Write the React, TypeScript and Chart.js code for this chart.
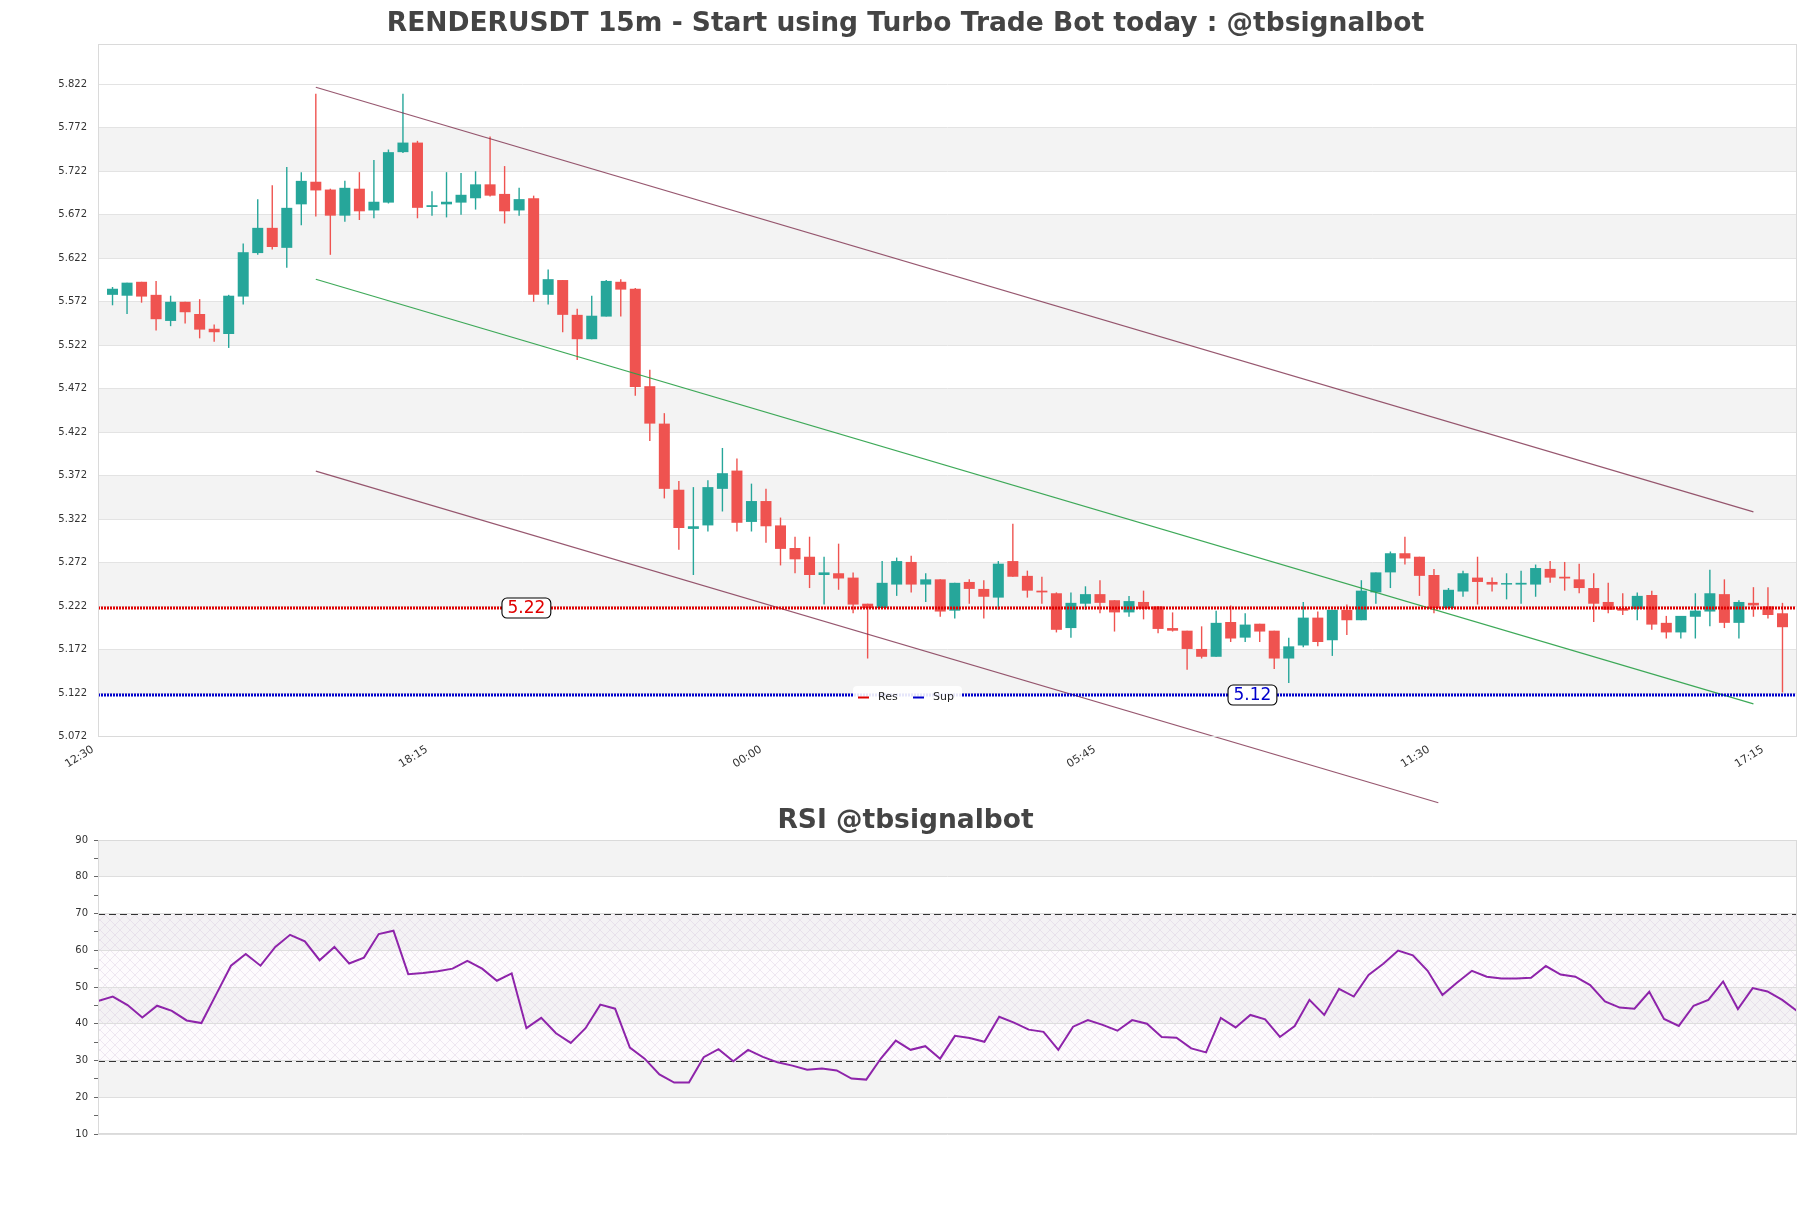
import React, { useEffect, useRef } from 'react';
import { Chart, registerables } from 'chart.js';

Chart.register(...registerables);

const FONT = '"DejaVu Sans", "Liberation Sans", sans-serif';

const titleText = 'RENDERUSDT 15m - Start using Turbo Trade Bot today : @tbsignalbot';
const rsiTitleText = 'RSI @tbsignalbot';

const opens = [
  5.580, 5.579, 5.595, 5.580, 5.550, 5.572, 5.558, 5.541, 5.535, 5.578,
  5.628, 5.657, 5.634, 5.684, 5.710, 5.701, 5.671, 5.702, 5.677, 5.686,
  5.744, 5.755, 5.681, 5.684, 5.686, 5.691, 5.707, 5.696, 5.677, 5.691,
  5.580, 5.597, 5.557, 5.529, 5.555, 5.595, 5.587, 5.475, 5.432, 5.356,
  5.311, 5.315, 5.357, 5.378, 5.319, 5.343, 5.315, 5.289, 5.279, 5.258,
  5.260, 5.255, 5.225, 5.220, 5.247, 5.273, 5.247, 5.253, 5.217, 5.250,
  5.242, 5.232, 5.274, 5.257, 5.240, 5.237, 5.197, 5.225, 5.236, 5.229,
  5.215, 5.227, 5.222, 5.197, 5.194, 5.173, 5.164, 5.204, 5.186, 5.202,
  5.194, 5.162, 5.177, 5.209, 5.183, 5.218, 5.206, 5.238, 5.261, 5.283,
  5.279, 5.258, 5.220, 5.239, 5.255, 5.250, 5.247, 5.247, 5.247, 5.265,
  5.256, 5.253, 5.243, 5.227, 5.220, 5.219, 5.235, 5.203, 5.192, 5.210,
  5.216, 5.236, 5.203, 5.226, 5.222, 5.214,
];
const highs = [
  5.589, 5.594, 5.595, 5.596, 5.579, 5.572, 5.575, 5.546, 5.580, 5.639,
  5.690, 5.706, 5.727, 5.721, 5.811, 5.702, 5.711, 5.721, 5.735, 5.747,
  5.811, 5.757, 5.699, 5.721, 5.720, 5.722, 5.762, 5.728, 5.703, 5.694,
  5.609, 5.597, 5.564, 5.579, 5.597, 5.598, 5.588, 5.494, 5.444, 5.366,
  5.359, 5.367, 5.404, 5.392, 5.363, 5.357, 5.324, 5.302, 5.302, 5.279,
  5.294, 5.261, 5.225, 5.274, 5.278, 5.280, 5.260, 5.253, 5.249, 5.253,
  5.252, 5.274, 5.317, 5.263, 5.256, 5.238, 5.238, 5.245, 5.252, 5.229,
  5.234, 5.240, 5.222, 5.215, 5.194, 5.199, 5.217, 5.223, 5.214, 5.202,
  5.194, 5.186, 5.227, 5.216, 5.218, 5.224, 5.252, 5.261, 5.285, 5.302,
  5.279, 5.265, 5.243, 5.263, 5.279, 5.255, 5.260, 5.263, 5.270, 5.274,
  5.273, 5.271, 5.260, 5.249, 5.237, 5.238, 5.240, 5.211, 5.211, 5.237,
  5.264, 5.253, 5.229, 5.244, 5.244, 5.226,
];
const lows = [
  5.568, 5.558, 5.571, 5.539, 5.544, 5.547, 5.530, 5.526, 5.519, 5.569,
  5.626, 5.632, 5.611, 5.660, 5.670, 5.626, 5.664, 5.666, 5.668, 5.685,
  5.743, 5.668, 5.671, 5.669, 5.672, 5.678, 5.693, 5.662, 5.671, 5.572,
  5.569, 5.537, 5.505, 5.529, 5.555, 5.555, 5.464, 5.412, 5.346, 5.287,
  5.258, 5.308, 5.331, 5.308, 5.308, 5.295, 5.269, 5.260, 5.243, 5.224,
  5.241, 5.214, 5.162, 5.220, 5.234, 5.238, 5.227, 5.210, 5.208, 5.225,
  5.208, 5.218, 5.256, 5.232, 5.225, 5.192, 5.186, 5.218, 5.214, 5.193,
  5.210, 5.207, 5.191, 5.193, 5.149, 5.162, 5.164, 5.181, 5.181, 5.181,
  5.150, 5.134, 5.175, 5.176, 5.165, 5.189, 5.206, 5.225, 5.243, 5.270,
  5.234, 5.214, 5.219, 5.233, 5.224, 5.239, 5.230, 5.225, 5.233, 5.249,
  5.240, 5.237, 5.204, 5.214, 5.212, 5.206, 5.195, 5.185, 5.185, 5.185,
  5.199, 5.197, 5.185, 5.210, 5.208, 5.123,
];
const closes = [
  5.587, 5.594, 5.578, 5.552, 5.572, 5.560, 5.540, 5.537, 5.579, 5.629,
  5.657, 5.635, 5.680, 5.711, 5.700, 5.671, 5.703, 5.676, 5.687, 5.744,
  5.755, 5.680, 5.683, 5.687, 5.695, 5.707, 5.694, 5.676, 5.690, 5.580,
  5.598, 5.557, 5.529, 5.556, 5.596, 5.586, 5.474, 5.432, 5.357, 5.312,
  5.314, 5.359, 5.375, 5.318, 5.343, 5.314, 5.288, 5.276, 5.258, 5.261,
  5.254, 5.224, 5.220, 5.249, 5.274, 5.247, 5.253, 5.216, 5.249, 5.242,
  5.233, 5.271, 5.256, 5.240, 5.238, 5.195, 5.226, 5.236, 5.226, 5.215,
  5.228, 5.219, 5.196, 5.194, 5.173, 5.164, 5.203, 5.185, 5.201, 5.193,
  5.162, 5.176, 5.209, 5.181, 5.218, 5.206, 5.240, 5.261, 5.283, 5.277,
  5.257, 5.220, 5.241, 5.260, 5.250, 5.247, 5.248, 5.249, 5.266, 5.255,
  5.254, 5.243, 5.225, 5.218, 5.217, 5.234, 5.201, 5.192, 5.211, 5.217,
  5.237, 5.203, 5.227, 5.223, 5.212, 5.198,
];

const rsiValues = [
  46.2, 47.4, 45.1, 41.7, 44.9, 43.5, 40.9, 40.2, 48.0, 55.8,
  59.0, 55.8, 60.9, 64.2, 62.4, 57.3, 60.9, 56.4, 58.0, 64.4,
  65.3, 53.5, 53.8, 54.3, 55.0, 57.1, 55.0, 51.7, 53.7, 38.8,
  41.6, 37.4, 34.8, 38.8, 45.2, 44.1, 33.5, 30.5, 26.2, 24.0,
  24.0, 30.9, 33.1, 29.8, 32.9, 31.0, 29.5, 28.6, 27.5, 27.8,
  27.3, 25.1, 24.8, 30.6, 35.4, 32.9, 33.9, 30.5, 36.7, 36.1,
  35.1, 41.9, 40.3, 38.4, 37.8, 32.9, 39.2, 41.0, 39.7, 38.1,
  41.0, 40.0, 36.4, 36.2, 33.3, 32.2, 41.6, 39.0, 42.4, 41.2,
  36.4, 39.4, 46.5, 42.4, 49.5, 47.4, 53.3, 56.3, 59.9, 58.6,
  54.4, 47.8, 51.2, 54.4, 52.8, 52.3, 52.3, 52.5, 55.7, 53.4,
  52.8, 50.5, 46.1, 44.4, 44.1, 48.7, 41.3, 39.4, 44.9, 46.5,
  51.5, 44.0, 49.7, 48.8, 46.5, 43.5,
];

const priceTicks = [
  5.072, 5.122, 5.172, 5.222, 5.272, 5.322, 5.372, 5.422,
  5.472, 5.522, 5.572, 5.622, 5.672, 5.722, 5.772, 5.822,
];
const timeTickPositions = [-1, 22, 45, 68, 91, 114];
const timeTickLabels = ['12:30', '18:15', '00:00', '05:45', '11:30', '17:15'];
const rsiTicks = [10, 15, 20, 25, 30, 35, 40, 45, 50, 55, 60, 65, 70, 75, 80, 85, 90];
const rsiBands = [[20, 30], [40, 50], [60, 70], [80, 90]];
const rsiLevels = [30, 70];

const upperChannel = [{ x: 14, y: 5.8186 }, { x: 113, y: 5.3305 }];
const midChannel = [{ x: 14, y: 5.5979 }, { x: 113, y: 5.1099 }];
const lowerChannel = [{ x: 14, y: 5.3773 }, { x: 91.3, y: 4.9962 }];

const resLevel = 5.22;
const supLevel = 5.12;
const resLabel = '5.22';
const supLabel = '5.12';
const resLabelAt = 28.5;
const supLabelAt = 78.5;

const GREEN = '#26a69a';
const RED = '#ef5350';
const RES_COLOR = '#e00000';
const SUP_COLOR = '#0000cc';
const CHANNEL = 'rgba(125,45,75,0.8)';
const MID = 'rgba(40,160,70,0.9)';

function roundRect(ctx: CanvasRenderingContext2D, x: number, y: number, w: number, h: number, r: number) {
  ctx.beginPath();
  ctx.moveTo(x + r, y);
  ctx.lineTo(x + w - r, y);
  ctx.arcTo(x + w, y, x + w, y + r, r);
  ctx.lineTo(x + w, y + h - r);
  ctx.arcTo(x + w, y + h, x + w - r, y + h, r);
  ctx.lineTo(x + r, y + h);
  ctx.arcTo(x, y + h, x, y + h - r, r);
  ctx.lineTo(x, y + r);
  ctx.arcTo(x, y, x + r, y, r);
  ctx.closePath();
}

function drawTag(ctx: CanvasRenderingContext2D, text: string, cx: number, cy: number, color: string) {
  ctx.save();
  ctx.font = `17px ${FONT}`;
  const w = ctx.measureText(text).width + 11;
  const h = 20;
  roundRect(ctx, cx - w / 2, cy - h / 2, w, h, 5);
  ctx.fillStyle = '#ffffff';
  ctx.fill();
  ctx.strokeStyle = '#000000';
  ctx.lineWidth = 1.1;
  ctx.stroke();
  ctx.fillStyle = color;
  ctx.textAlign = 'center';
  ctx.textBaseline = 'middle';
  ctx.fillText(text, cx, cy + 1);
  ctx.restore();
}

const mainDecor = {
  id: 'mainDecor',
  beforeDraw(chart: any) {
    const { ctx, chartArea: a } = chart;
    const y = chart.scales.y;
    ctx.save();
    ctx.fillStyle = '#f3f3f3';
    for (let i = 1; i + 1 < priceTicks.length; i += 2) {
      const y0 = y.getPixelForValue(priceTicks[i]);
      const y1 = y.getPixelForValue(priceTicks[i + 1]);
      ctx.fillRect(a.left, y1, a.right - a.left, y0 - y1);
    }
    ctx.restore();
  },
  afterDraw(chart: any) {
    const { ctx, chartArea: a } = chart;
    const x = chart.scales.x;
    const y = chart.scales.y;
    ctx.save();
    ctx.strokeStyle = '#dadada';
    ctx.lineWidth = 1;
    ctx.strokeRect(a.left + 0.5, a.top + 0.5, a.right - a.left - 1, a.bottom - a.top - 1);
    ctx.font = `bold 26.5px ${FONT}`;
    ctx.fillStyle = '#444444';
    ctx.textAlign = 'center';
    ctx.textBaseline = 'middle';
    ctx.fillText(titleText, chart.width / 2, 24);
    ctx.restore();

    drawTag(ctx, resLabel, x.getPixelForValue(resLabelAt), y.getPixelForValue(resLevel), RES_COLOR);
    drawTag(ctx, supLabel, x.getPixelForValue(supLabelAt), y.getPixelForValue(supLevel), SUP_COLOR);

    // legend
    ctx.save();
    const lx = 853, ly = 686, lw = 109, lh = 21;
    roundRect(ctx, lx, ly, lw, lh, 4);
    ctx.fillStyle = 'rgba(255,255,255,0.9)';
    ctx.fill();
    const cy = ly + lh / 2 + 1;
    ctx.lineWidth = 2;
    ctx.strokeStyle = RES_COLOR;
    ctx.beginPath(); ctx.moveTo(858, cy); ctx.lineTo(869, cy); ctx.stroke();
    ctx.strokeStyle = SUP_COLOR;
    ctx.beginPath(); ctx.moveTo(913, cy); ctx.lineTo(924, cy); ctx.stroke();
    ctx.fillStyle = '#222';
    ctx.font = `11px ${FONT}`;
    ctx.textAlign = 'left';
    ctx.textBaseline = 'middle';
    ctx.fillText('Res', 878, cy);
    ctx.fillText('Sup', 933, cy);
    ctx.restore();
  },
};

let hatchPattern: CanvasPattern | null = null;
function getHatch(ctx: CanvasRenderingContext2D) {
  if (hatchPattern) return hatchPattern;
  const n = 10;
  const p = document.createElement('canvas');
  p.width = n; p.height = n;
  const pc = p.getContext('2d')!;
  pc.fillStyle = 'rgba(246,238,248,0.25)';
  pc.fillRect(0, 0, n, n);
  pc.strokeStyle = 'rgba(205,185,215,0.5)';
  pc.lineWidth = 0.6;
  pc.beginPath();
  pc.moveTo(-1, -1); pc.lineTo(n + 1, n + 1);
  pc.moveTo(n + 1, -1); pc.lineTo(-1, n + 1);
  pc.stroke();
  hatchPattern = ctx.createPattern(p, 'repeat');
  return hatchPattern;
}

const rsiDecor = {
  id: 'rsiDecor',
  beforeDraw(chart: any) {
    const { ctx, chartArea: a } = chart;
    const y = chart.scales.y;
    ctx.save();
    ctx.fillStyle = '#f3f3f3';
    rsiBands.forEach(([lo, hi]) => {
      const y0 = y.getPixelForValue(lo);
      const y1 = y.getPixelForValue(hi);
      ctx.fillRect(a.left, y1, a.right - a.left, y0 - y1);
    });
    const yt = y.getPixelForValue(rsiLevels[1]);
    const yb = y.getPixelForValue(rsiLevels[0]);
    const pat = getHatch(ctx);
    if (pat) {
      ctx.fillStyle = pat;
      ctx.fillRect(a.left, yt, a.right - a.left, yb - yt);
    }
    ctx.restore();
  },
  beforeDatasetsDraw(chart: any) {
    const { ctx, chartArea: a } = chart;
    const y = chart.scales.y;
    ctx.save();
    ctx.strokeStyle = '#333333';
    ctx.lineWidth = 1.2;
    ctx.setLineDash([7, 4]);
    rsiLevels.forEach((lv) => {
      const py = Math.round(y.getPixelForValue(lv)) + 0.5;
      ctx.beginPath();
      ctx.moveTo(a.left, py);
      ctx.lineTo(a.right, py);
      ctx.stroke();
    });
    ctx.restore();
  },
  afterDraw(chart: any) {
    const { ctx, chartArea: a } = chart;
    ctx.save();
    ctx.strokeStyle = '#dadada';
    ctx.lineWidth = 1;
    ctx.strokeRect(a.left + 0.5, a.top + 0.5, a.right - a.left - 1, a.bottom - a.top - 1);
    ctx.font = `bold 26.5px ${FONT}`;
    ctx.fillStyle = '#444444';
    ctx.textAlign = 'center';
    ctx.textBaseline = 'middle';
    ctx.fillText(rsiTitleText, chart.width / 2, 21);
    ctx.restore();
  },
};

export default function App() {
  const mainRef = useRef<HTMLCanvasElement>(null);
  const rsiRef = useRef<HTMLCanvasElement>(null);

  useEffect(() => {
    Chart.defaults.font.family = FONT;
    const idx = opens.map((_, i) => i);
    const colors = idx.map((i) => (closes[i] >= opens[i] ? GREEN : RED));
    const lastX = 116;

    const main = new Chart(mainRef.current!, {
      type: 'bar',
      data: {
        datasets: [
          {
            type: 'line', label: 'Res',
            data: [{ x: -1, y: resLevel }, { x: lastX, y: resLevel }],
            borderColor: RES_COLOR, borderWidth: 3, borderDash: [2, 1],
            pointRadius: 0, order: 0,
          } as any,
          {
            type: 'line', label: 'Sup',
            data: [{ x: -1, y: supLevel }, { x: lastX, y: supLevel }],
            borderColor: SUP_COLOR, borderWidth: 3, borderDash: [2, 1],
            pointRadius: 0, order: 0,
          },
          {
            type: 'line', label: 'upper', data: upperChannel,
            borderColor: CHANNEL, borderWidth: 1.2, pointRadius: 0, clip: false, order: 0,
          },
          {
            type: 'line', label: 'mid', data: midChannel,
            borderColor: MID, borderWidth: 1.2, pointRadius: 0, clip: false, order: 0,
          },
          {
            type: 'line', label: 'lower', data: lowerChannel,
            borderColor: CHANNEL, borderWidth: 1.2, pointRadius: 0, clip: false, order: 0,
          },
          {
            type: 'bar', label: 'body',
            data: idx.map((i) => ({ x: i, y: [opens[i], closes[i]] })),
            backgroundColor: colors, barThickness: 11, grouped: false,
            minBarLength: 1.5, inflateAmount: 0, order: 1,
          },
          {
            type: 'bar', label: 'wick',
            data: idx.map((i) => ({ x: i, y: [lows[i], highs[i]] })),
            backgroundColor: colors, barThickness: 1.4, grouped: false,
            inflateAmount: 0, order: 2,
          },
        ] as any,
      },
      options: {
        responsive: false,
        animation: false,
        events: [],
        layout: { padding: { left: 0, right: 14, top: 44, bottom: 0 } },
        plugins: {
          legend: { display: false },
          tooltip: { enabled: false },
          title: { display: false },
        },
        scales: {
          x: {
            type: 'linear', min: -1, max: lastX, offset: false,
            grid: { display: false }, border: { display: false },
            afterBuildTicks: (s: any) => { s.ticks = timeTickPositions.map((v) => ({ value: v })); },
            afterFit: (s: any) => { s.height = 75; },
            ticks: {
              autoSkip: false, minRotation: 32, maxRotation: 32, padding: -2, labelOffset: -5,
              color: '#333', font: { family: FONT, size: 11 },
              callback: (v: any) => {
                const k = timeTickPositions.indexOf(Number(v));
                return k >= 0 ? timeTickLabels[k] : '';
              },
            },
          },
          y: {
            type: 'linear', min: 5.0718, max: 5.8683,
            grid: { color: '#e3e3e3', drawTicks: false }, border: { display: false },
            afterBuildTicks: (s: any) => { s.ticks = priceTicks.map((v) => ({ value: v })); },
            afterFit: (s: any) => { s.width = 98; },
            ticks: {
              padding: 11, color: '#333', font: { family: FONT, size: 10 },
              callback: (v: any) => Number(v).toFixed(3),
            },
          },
        },
      } as any,
      plugins: [mainDecor],
    });

    const rsi = new Chart(rsiRef.current!, {
      type: 'line',
      data: {
        datasets: [
          {
            label: 'RSI',
            data: rsiValues.map((v, i) => ({ x: i, y: v })),
            borderColor: '#8e24aa', borderWidth: 2, pointRadius: 0, tension: 0,
          },
        ],
      },
      options: {
        responsive: false,
        animation: false,
        events: [],
        layout: { padding: { left: 0, right: 14, top: 40, bottom: 74 } },
        plugins: { legend: { display: false }, tooltip: { enabled: false }, title: { display: false } },
        scales: {
          x: { type: 'linear', min: 0, max: rsiValues.length - 1, display: false },
          y: {
            type: 'linear', min: 10, max: 90,
            border: { display: false },
            grid: {
              color: (c: any) => (c.tick && c.tick.value % 10 === 0 ? '#dedede' : 'rgba(0,0,0,0)'),
              tickColor: '#666', tickLength: 4, drawTicks: true,
            },
            afterBuildTicks: (s: any) => { s.ticks = rsiTicks.map((v) => ({ value: v })); },
            afterFit: (s: any) => { s.width = 98; },
            ticks: {
              padding: 6, color: '#333', font: { family: FONT, size: 10 },
              callback: (v: any) => (Number(v) % 10 === 0 ? String(v) : ''),
            },
          },
        },
      } as any,
      plugins: [rsiDecor],
    });

    return () => {
      main.destroy();
      rsi.destroy();
    };
  }, []);

  return (
    <div style={{ position: 'absolute', left: 0, top: 0, width: 1811, height: 1208, background: '#fff' }}>
      <canvas ref={mainRef} width={1811} height={812} style={{ position: 'absolute', left: 0, top: 0 }} />
      <canvas ref={rsiRef} width={1811} height={408} style={{ position: 'absolute', left: 0, top: 800 }} />
    </div>
  );
}
